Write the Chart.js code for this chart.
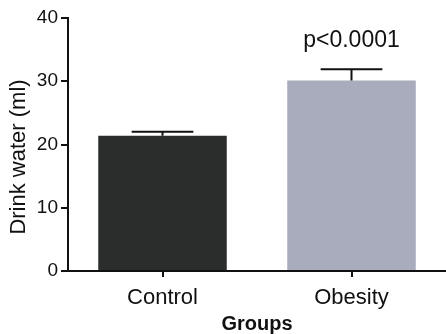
<!DOCTYPE html>
<html>
<head>
<meta charset="utf-8">
<title>Drink water</title>
<script src="https://cdn.jsdelivr.net/npm/chart.js@4/dist/chart.umd.min.js"></script>
<style>
  html, body { margin: 0; padding: 0; background: #fff; }
  #wrap { width: 446px; height: 334px; }
</style>
</head>
<body>
<div id="wrap"><canvas id="water-chart"></canvas></div>
<script>
// data
const groups = ['Control', 'Obesity'];
const drinkMean = [21.4, 30.1];
const drinkErr = [0.6, 1.8];
const barColors = ['#2b2d2c', '#a8acbc'];
const pLabel = 'p<0.0001';
const yMin = 0, yMax = 40, yStep = 10;

const FONT = '"Liberation Sans", Arial, Helvetica, sans-serif';

// error bars (mean + err, capped) and the p value above the second bar
const errorBars = {
    id: 'errorBars',
    afterDatasetsDraw(chart) {
        const ctx = chart.ctx;
        const meta = chart.getDatasetMeta(0);
        const y = chart.scales.y;
        ctx.save();
        ctx.strokeStyle = '#111';
        ctx.lineWidth = 2;
        meta.data.forEach(function(bar, i) {
            const top = y.getPixelForValue(drinkMean[i] + drinkErr[i]);
            const half = bar.width * 0.24;
            ctx.beginPath();
            ctx.moveTo(bar.x, bar.y);
            ctx.lineTo(bar.x, top);
            ctx.moveTo(bar.x - half, top);
            ctx.lineTo(bar.x + half, top);
            ctx.stroke();
        });
        const last = meta.data[meta.data.length - 1];
        ctx.fillStyle = '#111';
        ctx.font = '23px ' + FONT;
        ctx.textAlign = 'center';
        ctx.textBaseline = 'middle';
        ctx.fillText(pLabel, last.x, 41);

        // y axis title
        ctx.translate(19, 157);
        ctx.rotate(-Math.PI / 2);
        ctx.font = '22px ' + FONT;
        ctx.fillText('Drink water (ml)', 0, 0);
        ctx.restore();
    }
};

new Chart(document.getElementById('water-chart'), {
    type: 'bar',
    data: {
        labels: groups,
        datasets: [{
            data: drinkMean,
            backgroundColor: barColors,
            borderWidth: 0,
            barPercentage: 0.68,
            categoryPercentage: 1
        }]
    },
    options: {
        responsive: true,
        maintainAspectRatio: false,
        animation: false,
        layout: { padding: { top: 18, right: 0, left: 0, bottom: 0 } },
        plugins: {
            legend: { display: false },
            tooltip: { enabled: false }
        },
        scales: {
            x: {
                offset: true,
                afterFit: s => { s.height = 63; },
                grid: {
                    offset: false,
                    drawOnChartArea: false,
                    drawTicks: true,
                    tickLength: 6,
                    color: '#111',
                    lineWidth: 2
                },
                border: { color: '#111', width: 2 },
                ticks: {
                    color: '#111',
                    padding: 8,
                    font: { family: FONT, size: 22 }
                },
                title: {
                    display: true,
                    text: 'Groups',
                    color: '#111',
                    padding: { top: 0, bottom: 0 },
                    font: { family: FONT, size: 20, weight: 'bold', lineHeight: 0.95 }
                }
            },
            y: {
                min: yMin,
                max: yMax,
                afterFit: s => { s.width = 68; },
                grid: {
                    drawOnChartArea: false,
                    drawTicks: true,
                    tickLength: 7,
                    color: '#111',
                    lineWidth: 2
                },
                border: { color: '#111', width: 2 },
                ticks: {
                    stepSize: yStep,
                    color: '#111',
                    padding: 3,
                    font: { family: FONT, size: 19 }
                }
            }
        }
    },
    plugins: [errorBars]
});
</script>
</body>
</html>
